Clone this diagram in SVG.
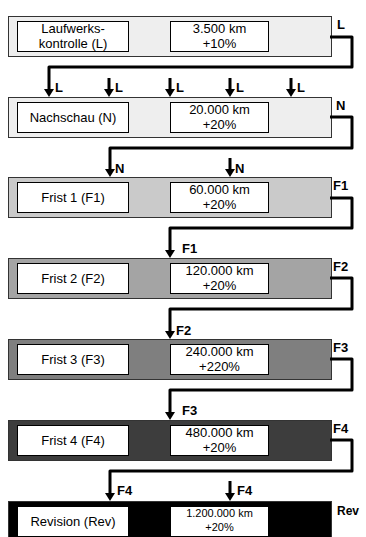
<svg xmlns="http://www.w3.org/2000/svg" width="366" height="537" viewBox="0 0 366 537">
<style>
.band{stroke:#333;stroke-width:1}
.box{fill:#fff;stroke:#000;stroke-width:1}
.t{font-family:"Liberation Sans",Arial,sans-serif;font-size:13px;fill:#000;text-anchor:middle}
.ts{font-family:"Liberation Sans",Arial,sans-serif;font-size:11px;fill:#000;text-anchor:middle}
.lb{font-family:"Liberation Sans",Arial,sans-serif;font-size:13px;font-weight:bold;fill:#000}
.conn{fill:none;stroke:#000;stroke-width:3;stroke-linejoin:round}
</style>
<defs>
<marker id="ah" markerUnits="userSpaceOnUse" viewBox="0 0 8 10" refX="0" refY="5" markerWidth="8" markerHeight="10" orient="auto">
<polygon points="0,0 8,5 0,10" fill="#000"/>
</marker>
</defs>

<g id="node-L">
<rect class="band" x="8.5" y="16.5" width="323" height="40" fill="#eeeeee"/>
<rect class="box" x="17.5" y="21.5" width="111" height="30"/>
<text class="t" x="73" y="32.5">Laufwerks-</text>
<text class="t" x="73" y="48">kontrolle (L)</text>
<rect class="box" x="170.5" y="21.5" width="98" height="30"/>
<text class="t" x="219.5" y="32.5">3.500 km</text>
<text class="t" x="219.5" y="48">+10%</text>
<text class="lb" x="337" y="29">L</text>
</g>

<g id="node-N">
<rect class="band" x="8.5" y="97.5" width="323" height="40" fill="#eeeeee"/>
<rect class="box" x="17.5" y="102.5" width="111" height="30"/>
<text class="t" x="73" y="122">Nachschau (N)</text>
<rect class="box" x="170.5" y="102.5" width="98" height="30"/>
<text class="t" x="219.5" y="113.5">20.000 km</text>
<text class="t" x="219.5" y="129">+20%</text>
<text class="lb" x="336" y="110">N</text>
</g>

<g id="node-F1">
<rect class="band" x="8.5" y="177.5" width="323" height="40" fill="#cacaca"/>
<rect class="box" x="17.5" y="182.5" width="111" height="30"/>
<text class="t" x="73" y="202">Frist 1 (F1)</text>
<rect class="box" x="170.5" y="182.5" width="98" height="30"/>
<text class="t" x="219.5" y="193.5">60.000 km</text>
<text class="t" x="219.5" y="209">+20%</text>
<text class="lb" x="333" y="190">F1</text>
</g>

<g id="node-F2">
<rect class="band" x="8.5" y="258.5" width="323" height="40" fill="#a4a4a4"/>
<rect class="box" x="17.5" y="263.5" width="111" height="30"/>
<text class="t" x="73" y="283">Frist 2 (F2)</text>
<rect class="box" x="170.5" y="263.5" width="98" height="30"/>
<text class="t" x="219.5" y="274.5">120.000 km</text>
<text class="t" x="219.5" y="290">+20%</text>
<text class="lb" x="333" y="271">F2</text>
</g>

<g id="node-F3">
<rect class="band" x="8.5" y="339.5" width="323" height="40" fill="#7f7f7f"/>
<rect class="box" x="17.5" y="344.5" width="111" height="30"/>
<text class="t" x="73" y="364">Frist 3 (F3)</text>
<rect class="box" x="170.5" y="344.5" width="98" height="30"/>
<text class="t" x="219.5" y="355.5">240.000 km</text>
<text class="t" x="219.5" y="371">+220%</text>
<text class="lb" x="333" y="352">F3</text>
</g>

<g id="node-F4">
<rect class="band" x="8.5" y="420.5" width="323" height="40" fill="#3d3d3d"/>
<rect class="box" x="17.5" y="425.5" width="111" height="30"/>
<text class="t" x="73" y="445">Frist 4 (F4)</text>
<rect class="box" x="170.5" y="425.5" width="98" height="30"/>
<text class="t" x="219.5" y="436.5">480.000 km</text>
<text class="t" x="219.5" y="452">+20%</text>
<text class="lb" x="333" y="433">F4</text>
</g>

<g id="node-Rev">
<rect class="band" x="8.5" y="501.5" width="323" height="40" fill="#000"/>
<rect class="box" x="17.5" y="506.5" width="111" height="30"/>
<text class="t" x="73" y="526">Revision (Rev)</text>
<rect class="box" x="170.5" y="506.5" width="98" height="30"/>
<text class="ts" x="219.5" y="517">1.200.000 km</text>
<text class="ts" x="219.5" y="531">+20%</text>
<text class="lb" x="337" y="515" style="font-size:12px">Rev</text>
</g>

<g id="connectors">
<path class="conn" d="M330,37 H352 V67 H49 V89" marker-end="url(#ah)"/>
<path class="conn" d="M109,78 V89" marker-end="url(#ah)"/>
<path class="conn" d="M170,78 V89" marker-end="url(#ah)"/>
<path class="conn" d="M230,78 V89" marker-end="url(#ah)"/>
<path class="conn" d="M291,78 V89" marker-end="url(#ah)"/>

<path class="conn" d="M330,117 H352 V148 H110 V169" marker-end="url(#ah)"/>
<path class="conn" d="M230,158 V169" marker-end="url(#ah)"/>

<path class="conn" d="M330,198 H352 V228 H170 V250" marker-end="url(#ah)"/>
<path class="conn" d="M330,278 H352 V309 H170 V331" marker-end="url(#ah)"/>
<path class="conn" d="M330,359 H352 V390 H170 V412" marker-end="url(#ah)"/>
<path class="conn" d="M330,440 H352 V471 H110 V493" marker-end="url(#ah)"/>
<path class="conn" d="M230,481 V493" marker-end="url(#ah)"/>

<text class="lb" x="55" y="92">L</text>
<text class="lb" x="115" y="92">L</text>
<text class="lb" x="176" y="92">L</text>
<text class="lb" x="236" y="92">L</text>
<text class="lb" x="297" y="92">L</text>
<text class="lb" x="115" y="173">N</text>
<text class="lb" x="235" y="173">N</text>
<text class="lb" x="182" y="253">F1</text>
<text class="lb" x="176" y="335">F2</text>
<text class="lb" x="182" y="415">F3</text>
<text class="lb" x="117" y="495">F4</text>
<text class="lb" x="237" y="495">F4</text>
</g>
</svg>
